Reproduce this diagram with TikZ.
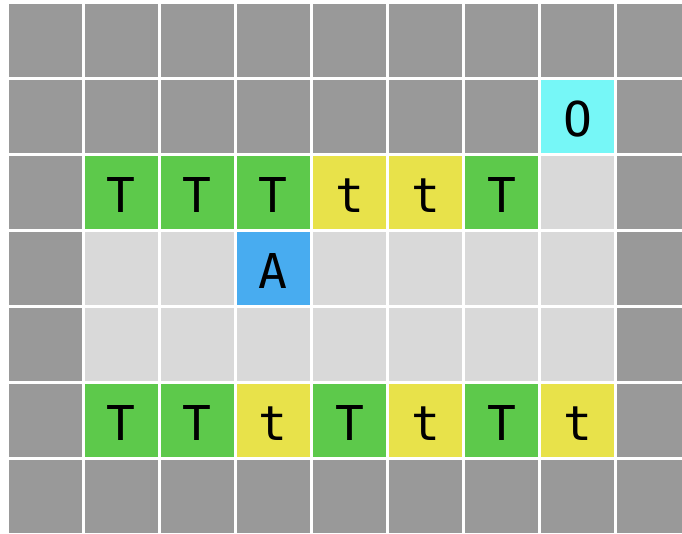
\documentclass[tikz,border=0pt]{standalone}
\usepackage{fontspec}
\newfontfamily\cellfont{DejaVu Sans Mono}
\definecolor{wallgray}{RGB}{153,153,153}
\definecolor{floorgray}{RGB}{217,217,217}
\definecolor{tgreen}{RGB}{93,201,75}
\definecolor{tyellow}{RGB}{232,226,74}
\definecolor{ablue}{RGB}{72,172,240}
\definecolor{ocyan}{RGB}{118,247,247}
\tikzset{
  cell/.style={draw=none, inner sep=0pt, minimum width=73pt, minimum height=73pt,
    text height=40pt, text depth=0pt, font=\cellfont\fontsize{48}{48}\selectfont},
  wall/.style={cell, fill=wallgray},
  floor/.style={cell, fill=floorgray},
  bigt/.style={cell, fill=tgreen},
  smallt/.style={cell, fill=tyellow},
  agent/.style={cell, fill=ablue},
  goal/.style={cell, fill=ocyan}
}
\begin{document}
\begin{tikzpicture}[x=1pt,y=-1pt]
\fill[white] (0,0) rectangle (682,533);
\useasboundingbox (0,0) rectangle (682,533);
\clip (0,0) rectangle (682,533);
% row 0 and row 6: walls
\foreach \i in {0,...,8} {
  \node[wall] (c-\i-0) at ({7+76.1*(\i+0.5)},{2+76.1*0.5}) {};
  \node[wall] (c-\i-6) at ({7+76.1*(\i+0.5)},{2+76.1*6.5}) {};
}
% row 1
\foreach \i in {0,...,6} {
  \node[wall] (c-\i-1) at ({7+76.1*(\i+0.5)},{2+76.1*1.5}) {};
}
\node[goal] (c-7-1) at ({7+76.1*7.5},{2+76.1*1.5}) {O};
\node[wall] (c-8-1) at ({7+76.1*8.5},{2+76.1*1.5}) {};
% side walls rows 2-5
\foreach \j in {2,...,5} {
  \node[wall] (c-0-\j) at ({7+76.1*0.5},{2+76.1*(\j+0.5)}) {};
  \node[wall] (c-8-\j) at ({7+76.1*8.5},{2+76.1*(\j+0.5)}) {};
}
% row 2
\foreach \i/\s/\t in {1/bigt/T,2/bigt/T,3/bigt/T,4/smallt/t,5/smallt/t,6/bigt/T,7/floor/{}} {
  \node[\s] (c-\i-2) at ({7+76.1*(\i+0.5)},{2+76.1*2.5}) {\t};
}
% row 3
\foreach \i/\s/\t in {1/floor/{},2/floor/{},3/agent/A,4/floor/{},5/floor/{},6/floor/{},7/floor/{}} {
  \node[\s] (c-\i-3) at ({7+76.1*(\i+0.5)},{2+76.1*3.5}) {\t};
}
% row 4
\foreach \i in {1,...,7} {
  \node[floor] (c-\i-4) at ({7+76.1*(\i+0.5)},{2+76.1*4.5}) {};
}
% row 5
\foreach \i/\s/\t in {1/bigt/T,2/bigt/T,3/smallt/t,4/bigt/T,5/smallt/t,6/bigt/T,7/smallt/t} {
  \node[\s] (c-\i-5) at ({7+76.1*(\i+0.5)},{2+76.1*5.5}) {\t};
}
\end{tikzpicture}
\end{document}
